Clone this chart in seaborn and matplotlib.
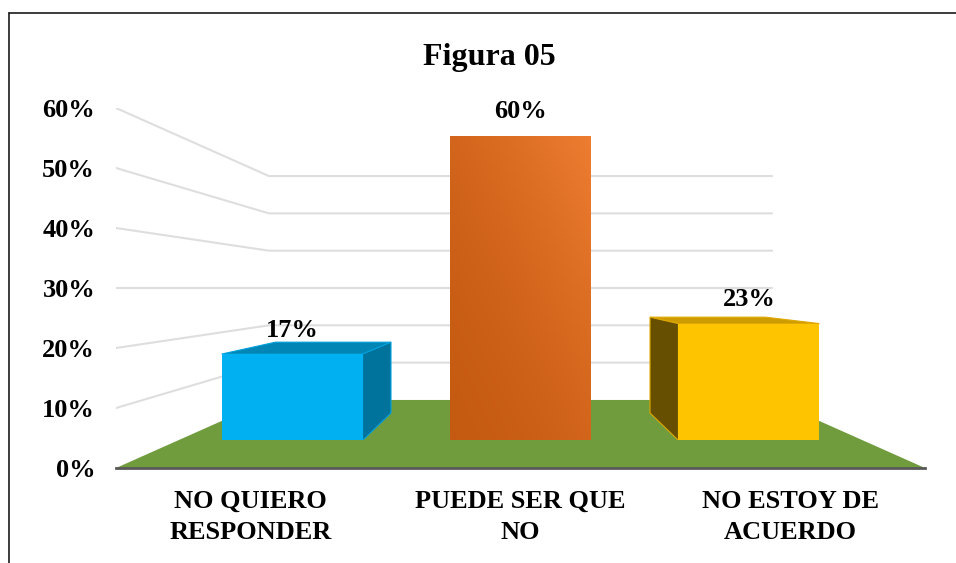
import numpy as np
import pandas as pd
import matplotlib.pyplot as plt
from matplotlib.lines import Line2D
from matplotlib.patches import Polygon
import seaborn as sns

categories = ['NO QUIERO\nRESPONDER', 'PUEDE SER QUE\nNO', 'NO ESTOY DE\nACUERDO']
values = [17, 60, 23]
y_ticks = [0, 10, 20, 30, 40, 50, 60]

bar_colors = ['#00B0F0', '#C55A11', '#FFC400']
top_colors = ['#0085B5', '#C55A11', '#CC9C00']
side_colors = ['#00739C', '#C55A11', '#665000']
edge_colors = ['#00A0DC', '#C55A11', '#E0A800']

sns.set_theme(style='white')
plt.rcParams['font.family'] = ['Liberation Serif', 'DejaVu Serif']
plt.rcParams['font.weight'] = 'bold'

W, H = 956, 563
fig = plt.figure(figsize=(W / 100, H / 100), dpi=100)
ax = fig.add_axes([116 / W, (H - 468) / H, 809 / W, 360 / H])
ax.set_xlim(-0.5, 2.5)
ax.set_ylim(0, 60)

# everything recedes towards the middle of the chart at the 30% line
def back(x, y, k):
    return 1 + (x - 1) * k, 30 + (y - 30) * k

wall = 0.622
plane = 0.847
depth = 0.82

# floor
floor = [(-0.5, 0), (2.5, 0), back(2.5, 0, wall), back(-0.5, 0, wall)]
ax.add_patch(Polygon(floor, closed=True, facecolor='#709C3E', edgecolor='none', zorder=1))

# walls
for t in y_ticks[1:]:
    corner = back(-0.5, t, wall)
    end = back(2.5, t, wall)
    ax.plot([-0.5, corner[0], end[0]], [t, corner[1], end[1]], color='#DEDEDE', lw=1.5, zorder=0)

ax.set_xticks([0, 1, 2], categories)
ax.set_yticks(y_ticks, [str(t) + '%' for t in y_ticks])
ax.tick_params(axis='x', length=0, pad=16, labelsize=19, labelcolor='black')
ax.tick_params(axis='y', length=0, pad=15, labelsize=19, labelcolor='black')
for lab in ax.get_xticklabels():
    lab.set_linespacing(1.42)
for s in ['top', 'right', 'left']:
    ax.spines[s].set_visible(False)
ax.spines['bottom'].set_color('#595959')
ax.spines['bottom'].set_linewidth(2)
ax.spines['bottom'].set_zorder(3)

# bars stand on a plane part way back from the front edge
x0, y0 = back(-0.5, 0, plane)
x1, y1 = back(2.5, 60, plane)
front = ax.inset_axes([x0, y0, x1 - x0, y1 - y0], transform=ax.transData)
front.patch.set_alpha(0)

df = pd.DataFrame({'cat': categories, 'val': values})
bar_w = 0.617
sns.barplot(data=df, x='cat', y='val', hue='cat', palette=bar_colors, width=bar_w,
            saturation=1, legend=False, ax=front, zorder=3, linewidth=0)
front.set_xlim(-0.5, 2.5)
front.set_ylim(0, 60)
front.set(xlabel='', ylabel='', xticks=[], yticks=[])
front.axis('off')

# orange bar patch, kept before the extra faces are added
bar = [p for c in front.containers for p in c if p.get_height() == values[1]][0]

# side and top faces, only the ones that can be seen
for i, v in enumerate(values):
    if i == 1:
        continue
    l, r = i - bar_w / 2, i + bar_w / 2
    bl, bt = back(l, v, depth)
    br, _ = back(r, v, depth)
    front.add_patch(Polygon([(l, v), (r, v), (br, bt), (bl, bt)], closed=True,
                            facecolor=top_colors[i], edgecolor=edge_colors[i], lw=0.8, zorder=2))
    sx = r if i == 0 else l
    sb = back(sx, 0, depth)
    st = back(sx, v, depth)
    front.add_patch(Polygon([(sx, 0), (sx, v), st, sb], closed=True,
                            facecolor=side_colors[i], edgecolor=edge_colors[i], lw=0.8, zorder=2))

# orange bar is shaded from lower left to upper right
gy, gx = np.mgrid[0:1:200j, 0:1:200j]
grad = (0.5 * gx + 0.5 * gy) ** 1.6
cmap = sns.blend_palette(['#C55A11', '#ED7D31'], as_cmap=True)
im = front.imshow(grad, extent=[1 - bar_w / 2, 1 + bar_w / 2, 0, values[1]], origin='lower',
                  aspect='auto', cmap=cmap, vmin=0, vmax=1, zorder=4)
im.set_clip_path(bar)
front.set_xlim(-0.5, 2.5)
front.set_ylim(0, 60)

for i, v in enumerate(values):
    front.text(i, v + 4.7, str(v) + '%', ha='center', va='center', fontsize=19,
               fontweight='bold', color='black', zorder=5)

fig.text(489 / W, 1 - 57 / H, 'Figura 05', ha='center', va='center', fontsize=23,
         fontweight='bold', color='black')

# outer frame, open on the right
fig.add_artist(Line2D([9 / W, 1], [1 - 12.5 / H, 1 - 12.5 / H], color='#1A1A1A', lw=1.2))
fig.add_artist(Line2D([9 / W, 9 / W], [0, 1 - 12.5 / H], color='#1A1A1A', lw=1.2))

fig.savefig('out.png', dpi=100)
